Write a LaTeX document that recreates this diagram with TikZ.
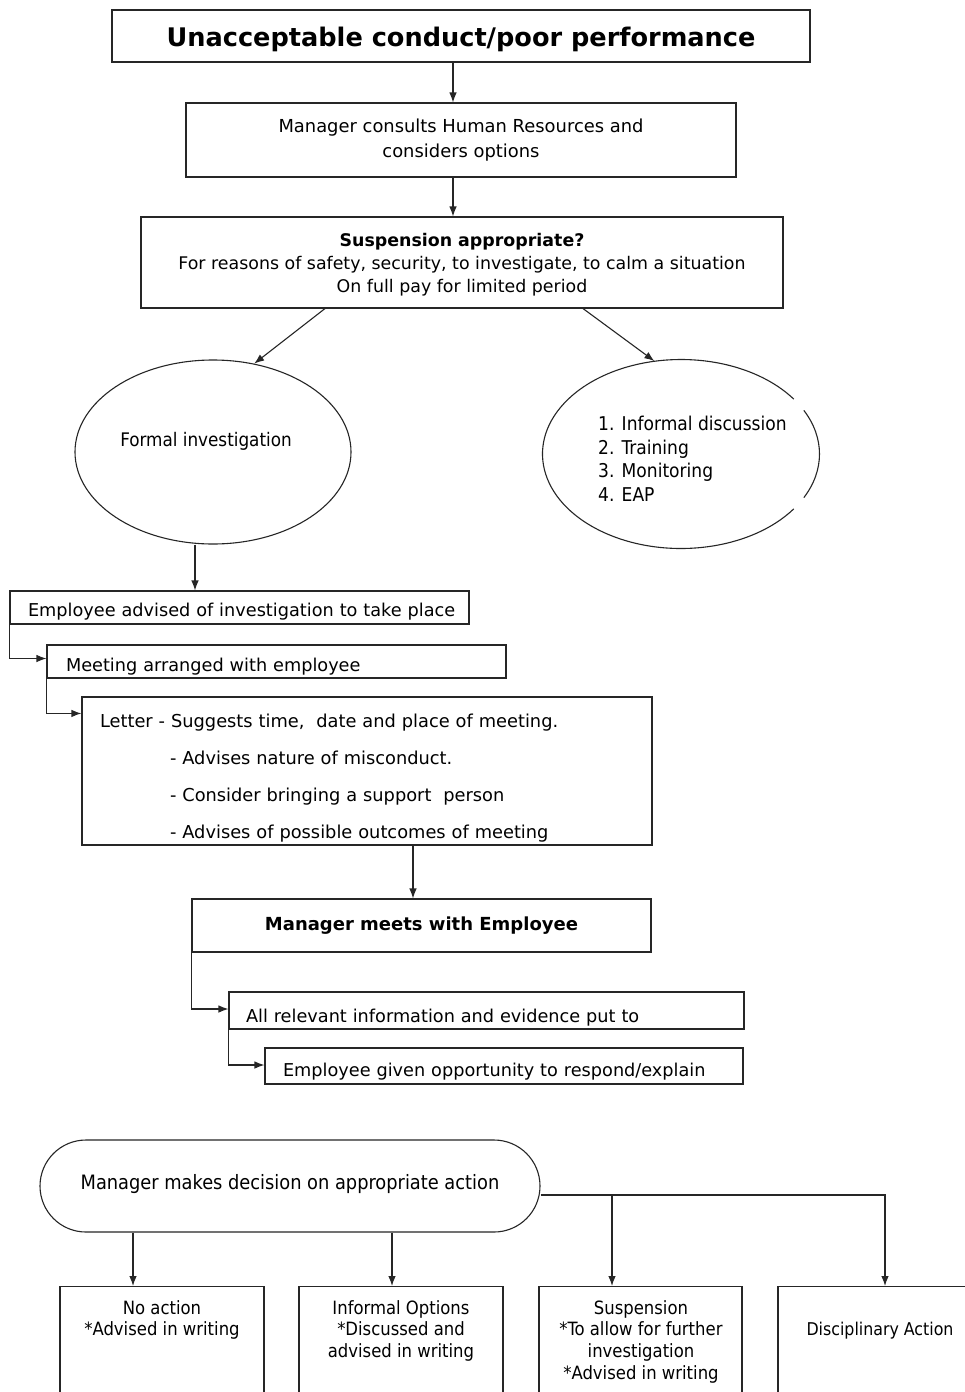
\documentclass[tikz,border=0pt]{standalone}
\usepackage{fontspec}
\setmainfont{DejaVu Sans}
\newfontfamily\condf{DejaVu Sans Condensed}
\usetikzlibrary{arrows.meta,shapes.geometric,calc}
\begin{document}
\begin{tikzpicture}[x=1pt,y=-1pt,
  box/.style={draw=black!85, line width=1.1pt, inner sep=0pt, rectangle},
  arr/.style={-{Latex[length=10pt,width=7.5pt]}, line width=1.1pt, draw=black!85},
  ln/.style={line width=1.1pt, draw=black!85},
  txt/.style={inner sep=0pt},
  f18/.style={font=\fontsize{17.7}{20}\selectfont, text depth=0pt},
  bt/.style={txt, anchor=north, align=center, font=\condf\fontsize{18.3}{21.7}\selectfont},
]
\fill[white] (0,0) rectangle (965,1392);
\clip (0,0) rectangle (965,1392);

% top
\node[box, minimum width=698pt, minimum height=52pt, font=\fontsize{25.6}{28}\selectfont\bfseries, text height=20pt, text depth=0pt] (title) at (461,36) {Unacceptable conduct/poor performance};
\node[box, minimum width=550pt, minimum height=74pt, align=center, font=\fontsize{17.9}{25}\selectfont] (consult) at (461,140) {Manager consults Human Resources and\\considers options};
\node[box, minimum width=642pt, minimum height=91pt, align=center, font=\fontsize{17.4}{23}\selectfont] (susp) at (462,262.5) {\rule{0pt}{17pt}{\bfseries Suspension appropriate?}\\For reasons of safety, security, to investigate, to calm a situation\\On full pay for limited period};

\draw[arr] ([xshift=-8pt]title.south) -- ([xshift=-8pt]consult.north);
\draw[arr] ([xshift=-8pt]consult.south) -- ([xshift=-9pt]susp.north);

% ellipses
\node[draw, ln, ellipse, inner sep=0pt, minimum width=276pt, minimum height=184pt] (formal) at (213,452) {};
\node[txt, font=\condf\fontsize{18.7}{20}\selectfont] (formalt) at (206,441) {Formal investigation};
\node[ellipse, inner sep=0pt, minimum width=277pt, minimum height=189pt] (inf) at (681,454) {};
\draw[ln] (inf.center) ++(27.5:138.5 and 94.5) arc[start angle=27.5, end angle=-27.5, x radius=138.5, y radius=94.5];
\draw[ln] (inf.center) ++(35.5:138.5 and 94.5) arc[start angle=35.5, end angle=324.5, x radius=138.5, y radius=94.5];
\node[txt, anchor=west, align=left, font=\condf\fontsize{19}{23.5}\selectfont] (inft) at (598,459) {1. Informal discussion\\2. Training\\3. Monitoring\\4. EAP};

\draw[arr] ([xshift=-137pt]susp.south) -- (formal.65);
\draw[arr] ([xshift=121pt]susp.south) -- (inf.106);

% investigation chain
\node[box, minimum width=459pt, minimum height=33pt, text width=423pt, align=left, f18, text height=17.7pt] (emp) at (239.5,607.5) {\mbox{Employee advised of investigation to take place}};
\draw[arr] ([xshift=-18pt]formal.south) -- ([xshift=-18pt]formal.south |- emp.north);

\node[box, minimum width=459pt, minimum height=33pt, text width=421pt, align=left, f18, text height=19.7pt] (meet) at (276.5,661.5) {Meeting arranged with employee};
\draw[arr] (emp.south west) |- ([yshift=3pt]meet.west);

\node[box, minimum width=570pt, minimum height=148pt, text width=534pt, align=left, font=\fontsize{17.8}{37}\selectfont] (letter) at (367,771) {\rule{0pt}{27pt}Letter - Suggests time,\ \ date and place of meeting.\\\hspace*{70pt}- Advises nature of misconduct.\\\hspace*{70pt}- Consider bringing a support\ \ person\\\hspace*{70pt}- Advises of possible outcomes of meeting};
\draw[arr] (meet.south west) |- ([yshift=-17pt]letter.north west);

\node[box, minimum width=459pt, minimum height=53pt, font=\fontsize{18}{20}\selectfont\bfseries] (mm) at (421.5,925.5) {Manager meets with Employee};
\draw[arr] ([xshift=46pt]letter.south) -- ([xshift=46pt]letter.south |- mm.north);

\node[box, minimum width=515pt, minimum height=37pt, text width=481pt, align=left, f18, text height=23.7pt] (allrel) at (486.5,1010.5) {All relevant information and evidence put to};
\draw[arr] (mm.south west) |- ([yshift=1.5pt]allrel.west);

\node[box, minimum width=478pt, minimum height=36pt, text width=442pt, align=left, f18, text height=21.7pt] (given) at (504,1066) {\mbox{Employee given opportunity to respond/explain}};
\draw[arr] (allrel.south west) |- ([yshift=1pt]given.west);

% decision
\node[draw, ln, rounded corners=46pt, minimum width=500pt, minimum height=92pt, inner sep=0pt, font=\condf\fontsize{19.8}{22}\selectfont, text depth=8pt] (dec) at (290,1186) {Manager makes decision on appropriate action};
\coordinate (junc) at ([yshift=-9pt]dec.east);

\node[box, anchor=north, minimum width=204pt, minimum height=140pt] (na) at (162,1286) {};
\node[box, anchor=north, minimum width=204pt, minimum height=140pt] (io) at (401,1286) {};
\node[box, anchor=north, minimum width=203pt, minimum height=140pt] (sp) at (640.5,1286) {};
\node[box, anchor=north, minimum width=204pt, minimum height=140pt] (da) at (880,1286) {};

\node[bt] (nat) at (162,1300) {No action\\*Advised in writing};
\node[bt] (iot) at (401,1300) {Informal Options\\*Discussed and\\advised in writing};
\node[bt] (spt) at (641,1300) {Suspension\\*To allow for further\\investigation\\*Advised in writing};
\node[bt, font=\condf\fontsize{17.6}{21.7}\selectfont] (dat) at (880,1322) {Disciplinary Action};

\draw[arr] ([xshift=-29pt]na.north |- dec.south) -- ([xshift=-29pt]na.north);
\draw[arr] ([xshift=-9pt]io.north |- dec.south) -- ([xshift=-9pt]io.north);
\draw[arr] (junc) -| ([xshift=5pt]da.north);
\draw[arr] ([xshift=-28.5pt]sp.north |- junc) -- ([xshift=-28.5pt]sp.north);
\end{tikzpicture}
\end{document}
